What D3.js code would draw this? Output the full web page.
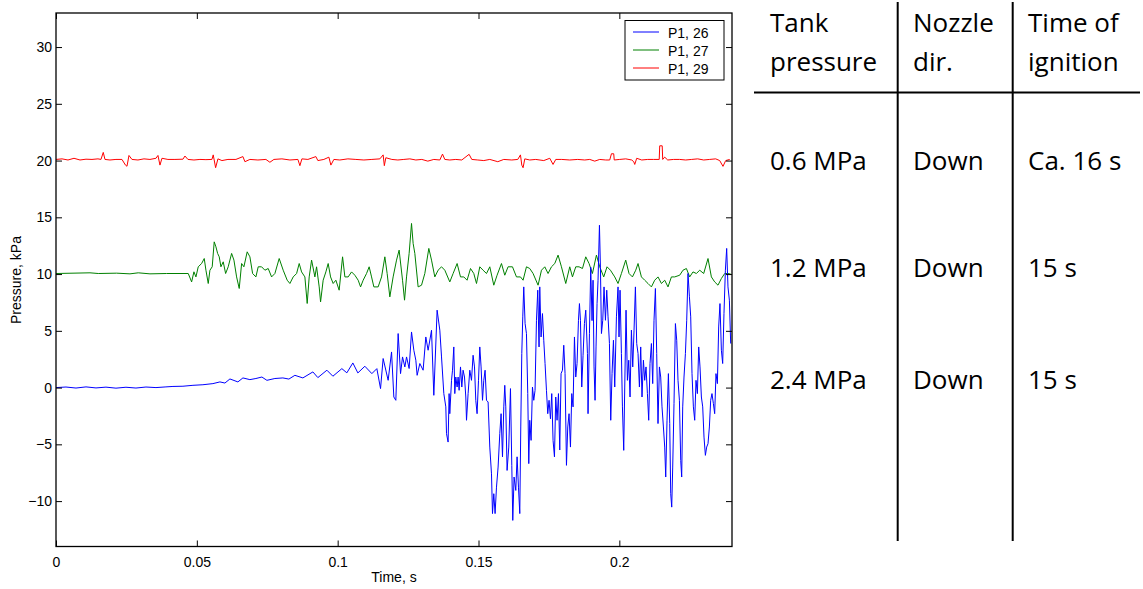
<!DOCTYPE html>
<html>
<head>
<meta charset="utf-8">
<script src="https://cdn.jsdelivr.net/npm/d3@7"></script>
<style>
  html, body { margin: 0; padding: 0; background: #fff; }
  svg { display: block; }
</style>
</head>
<body>
<svg id="chart" width="1143" height="589"></svg>
<script>
// ---------- DATA (time in ms, pressure in kPa) ----------
const series26 = [[0,0.0],[3.55,0.05],[7.10,-0.04],[10.65,0.06],[14.19,-0.03],[17.74,0.04],[21.29,-0.05],[24.84,0.03],[28.39,-0.04],[31.94,0.05],[35.49,0.0],[39.03,0.06],[41.52,0.1],[45.07,0.12],[48.62,0.2],[52.16,0.25],[55.71,0.35],[58.20,0.5],[59.97,0.4],[61.75,0.76],[64.58,0.5],[66.36,0.85],[68.84,0.7],[70.97,0.8],[73.10,0.93],[74.88,0.64],[77.71,0.8],[80.55,0.85],[82.68,0.75],[84.81,1.08],[87.65,0.85],[91.20,1.38],[92.97,0.88],[96.17,1.53],[98.30,1.0],[101.49,1.67],[103.26,1.3],[105.39,2.17],[107.17,1.29],[109.65,1.88],[112.14,1.23],[113.91,1.67],
[115.22,-0.09],[116.15,2.56],[117.92,0.64],[119.13,3.14],[119.94,-0.83],[120.65,-1.12],[121.47,4.76],[122.32,1.23],[123.03,2.70],[123.85,1.82],[124.45,2.70],[125.37,1.68],[126.22,4.90],[127.04,3.29],[127.75,2.41],[128.21,1.08],[129.17,2.12],[130.34,1.53],[131.30,4.46],[132.11,3.29],[133.32,5.05],[134.14,-0.68],[135.31,6.82],
[136.27,5.06],[136.87,2.7],[137.69,-0.53],[138.40,-1.7],[138.64,-4.06],[139.21,-4.8],[139.57,-0.53],[139.81,-2.3],[140.42,0.64],[140.77,1.53],[141.23,3.58],[141.59,-0.53],[141.94,0.93],[142.41,0.05],[142.76,0.93],[143.12,-0.24],[143.61,1.82],[144.07,0.05],[144.53,1.53],[145.03,0.93],[145.49,-0.83],[145.74,-2.88],[146.31,-0.53],[146.91,1.53],[147.51,0.64],[148.08,2.85],[148.58,1.82],[149.04,-1.12],[149.50,-2.3],[150.00,0.64],[150.46,3.58],[150.92,1.82],[151.42,-1.12],[151.88,0.64],[152.34,1.53],[152.84,-1.12],[153.41,-1.27],[154.01,-5.24],[154.61,-7.6],[154.97,-11.1],[155.43,-9.35],[155.89,-11.1],[156.39,-8.77],[156.96,-7.0],[157.56,-4.06],[158.02,-2.3],[158.52,-6.1],[158.98,-1.7],[159.33,0.2],[159.69,-1.7],[160.15,-7.3],[160.75,-5.24],[161.35,-0.09],[161.82,-6.85],[162.17,-11.7],[162.63,-7.88],[163.24,-9.06],[163.70,-6.1],[164.19,-8.77],[164.66,-11.1],[165.01,-3.47],[165.37,3.0],[165.72,6.23],[166.07,8.87],[166.54,5.64],[167.03,4.76],[167.49,-0.53],[167.85,-6.7],[168.20,-2.88],[168.67,-4.65],[169.16,0.05],[169.62,-1.12],[170.08,-0.24],[170.58,5.93],[171.04,8.58],[171.50,3.58],[171.75,8.87],[172.22,4.46],[172.71,6.52],[173.17,4.17],[173.63,2.12],[174.13,-0.24],[174.59,-2.3],[175.05,-1.12],[175.55,-2.75],[176.01,-0.53],[176.47,-4.65],[176.97,-6.1],[177.43,-0.83],[177.89,-2.88],[178.39,-0.53],[178.85,-5.5],[179.31,1.23],[179.81,1.53],[180.27,3.73],[180.73,1.23],[181.23,-6.85],[181.69,-3.47],[182.15,-2.3],[182.65,-5.24],[183.11,-0.53],[183.57,-1.7],[184.07,4.46],[184.53,0.93],[184.99,2.12],[185.49,5.93],[185.84,7.4],[186.20,5.93],[186.66,0.05],[187.12,2.85],[187.61,5.64],[188.08,6.82],[188.68,3.0],[188.89,-2.3],[189.39,4.76],[189.85,10.6],[190.31,5.9],[190.67,9.46],[191.02,1.82],[191.38,-1.12],[191.73,3.58],[192.09,7.4],[192.44,9.46],[192.94,14.3],[193.29,10.6],[193.65,4.76],[194.11,5.93],[194.57,8.87],[195.07,5.93],[195.53,8.58],[195.99,6.23],[196.49,3.88],[196.95,-2.88],[197.41,1.23],[197.91,4.17],[198.37,0.05],[198.97,6.23],[199.54,8.87],[199.89,4.46],[200.25,8.58],[200.74,3.0],[201.10,-1.7],[201.56,-5.53],[201.92,0.05],[202.38,6.82],[202.87,0.64],[203.34,2.41],[203.80,-0.83],[204.29,5.06],[204.76,1.82],[205.22,5.06],[205.71,8.87],[206.17,3.88],[206.64,3.0],[207.13,0.05],[207.59,3.58],[208.05,-0.83],[208.55,2.41],[209.01,0.64],[209.47,1.82],[209.97,-0.53],[210.43,-2.88],[210.89,2.12],[211.39,3.88],[211.85,0.35],[212.31,5.93],[212.81,8.73],[213.27,3.0],[213.73,-3.17],[214.23,1.82],[214.69,0.93],[215.15,-1.7],[215.65,-3.47],[216.11,-5.24],[216.47,-7.88],[216.93,-2.88],[217.42,1.23],[217.89,-3.17],[218.24,-9.35],[218.60,-10.53],[218.95,-7.0],[219.41,-1.41],[219.91,5.64],[220.37,4.17],[220.83,0.64],[221.33,-1.12],[221.79,-6.41],[222.14,-7.88],[222.50,-1.7],[222.96,0.93],[223.46,3.0],[223.92,5.93],[224.38,10.05],[224.88,8.0],[225.34,6.23],[225.80,1.23],[226.29,-1.7],[226.76,-2.88],[227.22,0.64],[227.71,-0.53],[228.18,3.58],[228.64,1.82],[229.13,-0.83],[229.60,-1.7],[230.06,-4.36],[230.55,-5.97],[231.01,-5.24],[231.48,-4.94],[231.97,-3.47],[232.43,-1.12],[232.89,-0.53],[233.39,-1.41],[233.85,-2.3],[234.31,1.23],[234.81,0.35],[235.27,5.34],[235.73,7.4],[236.23,3.29],[236.69,2.12],[237.15,6.52],[237.65,10.34],[238.11,12.26],[238.57,8.87],[239.07,7.7],[239.53,3.88]];

const series27 = [[0,10.05],[12.07,10.11],[15.01,10.05],[21.54,10.08],[26.26,10.02],[29.21,10.11],[33.36,10.02],[39.28,10.05],[46.95,10.05],[48.15,9.31],[48.97,10.2],[49.68,9.75],[50.50,10.64],[51.70,10.93],[52.63,11.37],[53.23,10.34],[54.05,9.17],[54.65,10.34],[55.46,10.64],[56.17,12.84],[56.78,12.4],[57.38,11.82],[57.95,11.52],[58.55,10.64],[59.37,11.08],[60.22,10.05],[61.14,10.64],[62.35,11.82],[63.17,11.23],[64.12,9.75],[65.05,8.73],[65.90,10.93],[66.71,10.64],[67.88,11.96],[68.84,11.52],[69.80,10.05],[70.97,9.75],[71.79,10.64],[72.99,10.64],[74.17,10.34],[75.34,10.49],[76.54,9.75],[77.71,10.05],[79.24,11.37],[80.66,10.34],[82.08,9.46],[83.04,9.17],[84.21,9.75],[85.42,10.05],[86.34,10.93],[87.19,10.19],[88.36,9.75],[89.18,7.41],[89.89,9.75],[90.74,11.23],[91.91,9.75],[92.51,10.64],[93.44,8.87],[93.93,7.55],[94.85,9.46],[95.81,10.19],[96.63,10.93],[97.48,9.75],[98.40,9.17],[99.36,9.46],[100.53,8.58],[101.74,11.52],[102.56,9.75],[103.73,9.75],[104.93,10.19],[106.10,9.90],[107.28,9.46],[108.13,8.87],[109.05,9.46],[110.25,10.05],[111.18,10.64],[112.03,9.75],[112.85,8.87],[114.37,8.87],[115.58,9.75],[116.75,11.52],[117.57,10.05],[118.52,7.99],[119.69,9.75],[120.90,11.23],[121.82,12.11],[123.03,9.46],[123.74,7.70],[124.45,9.75],[125.37,11.82],[126.22,14.46],[126.79,12.70],[127.40,11.82],[128.57,8.87],[129.77,9.02],[130.94,10.05],[132.36,12.26],[133.32,11.23],[134.49,9.75],[135.66,10.34],[136.87,10.64],[138.04,10.34],[139.81,9.31],[140.99,10.05],[142.41,10.93],[143.61,9.75],[144.78,9.75],[145.95,9.46],[147.16,10.49],[148.33,10.05],[149.29,9.17],[150.46,10.64],[151.63,10.34],[152.84,10.05],[154.01,10.64],[155.43,9.02],[156.60,9.90],[158.16,10.93],[159.33,9.90],[160.50,10.64],[162.06,10.64],[163.48,9.75],[164.90,9.75],[165.83,9.46],[167.03,10.64],[168.20,10.49],[169.38,10.05],[171.15,9.02],[172.36,10.34],[173.53,10.64],[174.70,10.05],[175.91,10.64],[177.08,10.93],[178.25,11.67],[179.45,10.64],[180.98,9.17],[182.40,10.64],[183.36,9.75],[184.53,10.64],[185.70,10.64],[186.91,10.49],[188.08,11.52],[189.25,10.93],[190.45,10.05],[191.87,11.67],[193.04,10.64],[194.46,9.75],[195.63,10.64],[196.84,10.34],[198.37,9.75],[199.54,9.17],[200.74,10.05],[202.27,11.23],[203.44,10.05],[204.65,9.75],[205.82,10.34],[206.64,10.93],[207.84,9.75],[209.01,9.46],[210.18,9.17],[211.39,8.87],[212.56,9.46],[213.73,9.75],[214.94,9.17],[216.11,9.46],[217.28,8.87],[218.49,9.75],[219.66,9.75],[221.43,9.90],[222.60,10.34],[223.81,10.49],[224.98,9.75],[226.15,10.19],[227.36,10.05],[228.53,10.34],[229.95,10.05],[231.48,11.37],[232.68,9.75],[233.85,9.31],[235.02,9.02],[236.23,9.61],[237.41,10.05],[238.57,10.05],[239.53,10.0]];

const series29 = [[0,20.1],[2.13,20.15],[4.26,20.05],[6.39,20.2],[8.52,20.05],[10.65,20.12],[12.78,20.1],[14.90,20.15],[15.97,20.1],[16.78,20.72],[17.39,20.1],[19.16,20.05],[21.29,20.1],[23.42,20.1],[24.66,19.6],[25.20,19.5],[25.91,20.45],[26.97,20.1],[29.10,20.05],[31.23,20.15],[33.36,20.1],[35.49,20.2],[36.20,20.45],[36.91,19.6],[37.62,20.2],[39.74,20.1],[42.23,20.1],[45.07,20.12],[45.78,20.4],[46.84,20.1],[48.97,20.05],[51.10,20.1],[53.23,20.08],[55.36,20.1],[55.82,20.5],[56.67,19.37],[57.49,20.15],[58.91,20.0],[61.04,20.1],[63.88,20.1],[66.36,20.35],[67.07,19.9],[68.84,20.1],[71.68,20.05],[74.52,20.1],[75.94,19.85],[77.36,20.1],[80.20,20.15],[83.04,20.05],[85.88,20.1],[86.59,19.55],[87.30,20.15],[89.43,20.1],[92.26,20.35],[92.97,20.0],[95.10,20.1],[96.88,20.3],[97.59,19.6],[98.65,20.1],[100.78,20.05],[103.62,20.15],[106.46,20.1],[109.30,20.05],[112.14,20.1],[114.98,20.15],[116.15,20.5],[116.57,19.55],[117.10,20.25],[119.23,20.1],[121.36,20.05],[123.49,20.1],[125.62,20.15],[127.75,20.05],[129.88,20.1],[132.01,19.95],[134.14,20.1],[136.27,20.05],[137.22,20.57],[138.04,20.1],[139.81,20.05],[141.94,20.1],[144.07,20.05],[146.66,20.55],[147.62,20.1],[149.75,20.05],[151.88,20.0],[154.01,20.1],[156.85,19.9],[158.98,20.1],[161.82,20.05],[163.95,20.1],[164.90,20.5],[165.37,19.6],[165.83,19.37],[166.43,20.15],[168.20,20.05],[170.33,20.1],[173.17,20.0],[175.30,20.2],[176.47,19.66],[177.43,20.1],[179.56,20.1],[182.40,20.05],[185.24,20.1],[187.72,20.05],[189.50,20.1],[191.27,19.95],[193.04,20.1],[195.17,20.05],[196.59,20.05],[197.20,20.6],[198.01,20.6],[198.19,20.05],[200.14,20.1],[202.27,20.15],[204.40,20.05],[205.11,19.9],[205.47,19.66],[206.17,20.2],[207.95,20.05],[210.08,20.1],[212.21,20.1],[214.16,20.1],[214.34,21.3],[215.22,21.3],[215.40,20.1],[216.11,20.3],[217.18,20.05],[219.30,20.1],[221.43,20.1],[223.56,20.05],[225.69,20.1],[227.82,20.15],[229.95,20.05],[232.08,20.1],[234.21,20.15],[235.63,20.0],[236.80,19.49],[237.76,20.0],[239.18,20.1]];

const seriesNames  = ["P1, 26", "P1, 27", "P1, 29"];
const seriesColors = ["#0000ff", "#008000", "#ff0000"];
const xTickValues = [0, 0.05, 0.1, 0.15, 0.2];
const xTickLabels = ["0", "0.05", "0.1", "0.15", "0.2"];
const yTickValues = [-10, -5, 0, 5, 10, 15, 20, 25, 30];
const xDomain = [0, 0.24];
const yDomain = [-14, 33];

const tableHeaders = [["Tank", "pressure"], ["Nozzle", "dir."], ["Time of", "ignition"]];
const tablePressure = ["0.6 MPa", "1.2 MPa", "2.4 MPa"];
const tableNozzle = ["Down", "Down", "Down"];
const tableIgnition = ["Ca. 16 s", "15 s", "15 s"];

// ---------- CHART ----------
const svg = d3.select("#chart");
const W = 1143, H = 589;
svg.append("rect").attr("width", W).attr("height", H).attr("fill", "#fff");

const plot = { left: 56, right: 732, top: 13, bottom: 546.5 };
const x = d3.scaleLinear().domain(xDomain).range([plot.left, plot.right]);
const y = d3.scaleLinear().domain(yDomain).range([plot.bottom, plot.top]);

const FONT = "'Liberation Sans', Arial, Helvetica, sans-serif";

svg.append("defs").append("clipPath").attr("id", "clip")
  .append("rect").attr("x", plot.left).attr("y", plot.top)
  .attr("width", plot.right - plot.left).attr("height", plot.bottom - plot.top);

const allSeries = [series26, series27, series29].map(s => s.map(p => ({ t: p[0] / 1000, v: p[1] })));

const line = d3.line().x(d => x(d.t)).y(d => y(d.v));
const gLines = svg.append("g").attr("clip-path", "url(#clip)");
// draw red, green, blue order so blue is on top where overlapping
[2, 1, 0].forEach(i => {
  gLines.append("path").datum(allSeries[i])
    .attr("fill", "none").attr("stroke", seriesColors[i])
    .attr("stroke-width", 1).attr("stroke-linejoin", "round")
    .attr("d", line);
});

// axes
const TICK = 6;
const axB = svg.append("g").attr("transform", `translate(0,${plot.bottom})`)
  .call(d3.axisBottom(x).tickValues(xTickValues).tickFormat((d, i) => xTickLabels[i])
    .tickSize(-TICK).tickSizeOuter(0).tickPadding(11));
const axL = svg.append("g").attr("transform", `translate(${plot.left},0)`)
  .call(d3.axisLeft(y).tickValues(yTickValues).tickFormat(d3.format("d"))
    .tickSize(-TICK).tickSizeOuter(0).tickPadding(4));
const axT = svg.append("g").attr("transform", `translate(0,${plot.top})`)
  .call(d3.axisTop(x).tickValues(xTickValues).tickFormat("").tickSize(-TICK).tickSizeOuter(0));
const axR = svg.append("g").attr("transform", `translate(${plot.right},0)`)
  .call(d3.axisRight(y).tickValues(yTickValues).tickFormat("").tickSize(-TICK).tickSizeOuter(0));

[axB, axL, axT, axR].forEach(g => {
  g.select(".domain").remove();
  g.selectAll(".tick line").attr("stroke", "#000").attr("stroke-width", 1);
  g.selectAll(".tick text").attr("fill", "#000").style("font-family", FONT).style("font-size", "14px");
});

// frame
svg.append("rect").attr("x", plot.left).attr("y", plot.top)
  .attr("width", plot.right - plot.left).attr("height", plot.bottom - plot.top)
  .attr("fill", "none").attr("stroke", "#000").attr("stroke-width", 1.3);

// axis labels
svg.append("text").attr("x", (plot.left + plot.right) / 2 + 0).attr("y", 582)
  .attr("text-anchor", "middle").style("font-family", FONT).style("font-size", "14px")
  .text("Time, s");
svg.append("text").attr("transform", `translate(21,${280}) rotate(-90)`)
  .attr("text-anchor", "middle").style("font-family", FONT).style("font-size", "14px")
  .text("Pressure, kPa");

// legend
const lg = svg.append("g");
lg.append("rect").attr("x", 625).attr("y", 20.5).attr("width", 99).attr("height", 59.5)
  .attr("fill", "#fff").attr("stroke", "#000").attr("stroke-width", 1);
seriesNames.forEach((name, i) => {
  const cy = 32 + i * 18;
  lg.append("line").attr("x1", 633).attr("x2", 659).attr("y1", cy).attr("y2", cy)
    .attr("stroke", seriesColors[i]).attr("stroke-width", 1);
  lg.append("text").attr("x", 668).attr("y", cy + 5.5)
    .style("font-family", FONT).style("font-size", "14px").text(name);
});

// ---------- TABLE ----------
const TFONT = "'Open Sans', 'Noto Sans', sans-serif";
const colX = [770, 913, 1028];
const tg = svg.append("g").style("font-family", TFONT).style("font-size", "26px").attr("fill", "#000");
tableHeaders.forEach((h, c) => {
  tg.append("text").attr("x", colX[c]).attr("y", 31.5).text(h[0]);
  tg.append("text").attr("x", colX[c]).attr("y", 71).text(h[1]);
});
const rowY = [170, 276.5, 388.5];
[tablePressure, tableNozzle, tableIgnition].forEach((col, c) => {
  col.forEach((txt, r) => tg.append("text").attr("x", colX[c]).attr("y", rowY[r]).text(txt));
});
svg.append("line").attr("x1", 754).attr("x2", 1140).attr("y1", 92.5).attr("y2", 92.5)
  .attr("stroke", "#000").attr("stroke-width", 2);
[897.7, 1012.7].forEach(vx => {
  svg.append("line").attr("x1", vx).attr("x2", vx).attr("y1", 2).attr("y2", 541)
    .attr("stroke", "#000").attr("stroke-width", 2);
});
</script>
</body>
</html>
